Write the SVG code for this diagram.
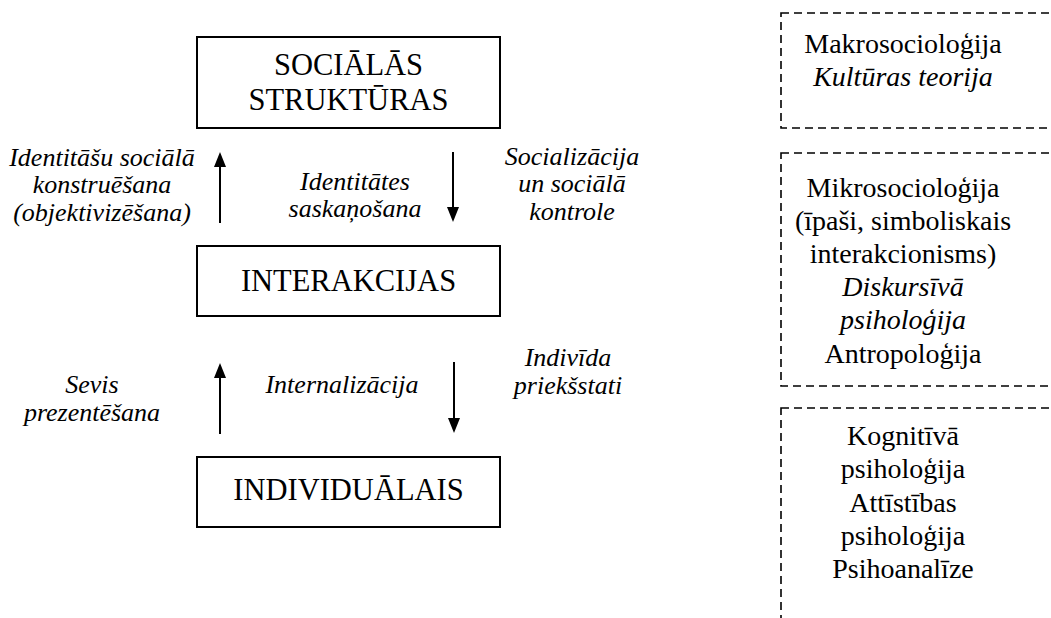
<svg xmlns="http://www.w3.org/2000/svg" width="1051" height="618" viewBox="0 0 1051 618" font-family="Liberation Serif, Times New Roman, Times, serif">
<style>
.box{fill:#fff;stroke:#000;stroke-width:2}
.dash{fill:none;stroke:#000;stroke-width:1.6;stroke-dasharray:8 5}
text{font-family:'Liberation Serif','Times New Roman',Times,serif;fill:#000;text-anchor:middle}
.cap{font-size:30.5px}
.lab{font-size:26px;font-style:italic}
.rt{font-size:28px}
.it{font-style:italic}
.ln{stroke:#000;stroke-width:2}
</style>
<rect width="1051" height="618" fill="#fff"/>
<g id="connectors">
<line class="ln" x1="220" y1="223" x2="220" y2="162"/>
<path d="M214,167 L226,167 L220,152 Z" fill="#000"/>
<line class="ln" x1="453" y1="152" x2="453" y2="212"/>
<path d="M447,207 L459,207 L453,222 Z" fill="#000"/>
<line class="ln" x1="220" y1="434" x2="220" y2="372"/>
<path d="M214,378 L226,378 L220,363 Z" fill="#000"/>
<line class="ln" x1="454" y1="362" x2="454" y2="424"/>
<path d="M448,418 L460,418 L454,433 Z" fill="#000"/>
</g>
<g id="node-socialas">
<rect class="box" x="197" y="37" width="303" height="91"/>
<text class="cap" x="348.5" y="75">SOCIĀLĀS</text>
<text class="cap" x="348.5" y="110">STRUKTŪRAS</text>
</g>
<g id="node-interakcijas">
<rect class="box" x="197" y="246" width="303" height="70"/>
<text class="cap" x="348.5" y="291">INTERAKCIJAS</text>
</g>
<g id="node-individualais">
<rect class="box" x="197" y="457" width="303" height="70"/>
<text class="cap" x="348.5" y="500">INDIVIDUĀLAIS</text>
</g>
<g id="labels">
<text class="lab" x="102" y="166">Identitāšu sociālā</text>
<text class="lab" x="102" y="193">konstruēšana</text>
<text class="lab" x="102" y="221">(objektivizēšana)</text>
<text class="lab" x="355" y="190">Identitātes</text>
<text class="lab" x="355" y="217">saskaņošana</text>
<text class="lab" x="572" y="165">Socializācija</text>
<text class="lab" x="572" y="192">un sociālā</text>
<text class="lab" x="572" y="220">kontrole</text>
<text class="lab" x="92" y="393">Sevis</text>
<text class="lab" x="92" y="421">prezentēšana</text>
<text class="lab" x="342" y="393">Internalizācija</text>
<text class="lab" x="568" y="366">Indivīda</text>
<text class="lab" x="568" y="394">priekšstati</text>
</g>
<g id="node-makro">
<rect class="dash" x="781" y="13" width="290" height="115"/>
<text class="rt" x="903" y="53">Makrosocioloģija</text>
<text class="rt it" x="903" y="86">Kultūras teorija</text>
</g>
<g id="node-mikro">
<rect class="dash" x="781" y="153" width="290" height="233"/>
<text class="rt" x="903" y="197">Mikrosocioloģija</text>
<text class="rt" x="903" y="230">(īpaši, simboliskais</text>
<text class="rt" x="903" y="263">interakcionisms)</text>
<text class="rt it" x="903" y="296">Diskursīvā</text>
<text class="rt it" x="903" y="329">psiholoģija</text>
<text class="rt" x="903" y="363">Antropoloģija</text>
</g>
<g id="node-psiho">
<rect class="dash" x="781" y="408" width="290" height="240"/>
<text class="rt" x="903" y="445">Kognitīvā</text>
<text class="rt" x="903" y="478">psiholoģija</text>
<text class="rt" x="903" y="512">Attīstības</text>
<text class="rt" x="903" y="545">psiholoģija</text>
<text class="rt" x="903" y="578">Psihoanalīze</text>
</g>
</svg>
